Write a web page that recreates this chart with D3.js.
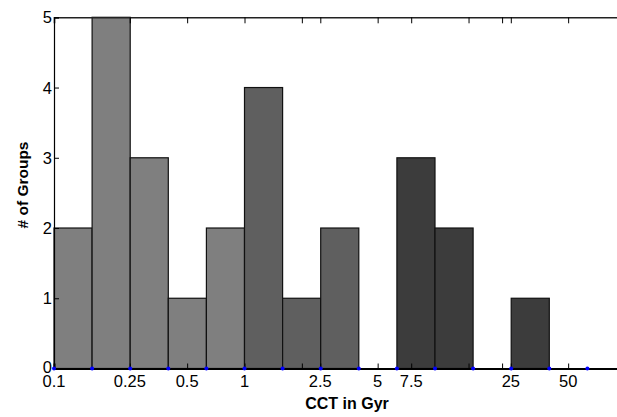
<!DOCTYPE html>
<html><head><meta charset="utf-8">
<script src="https://cdn.jsdelivr.net/npm/d3@7"></script>
<style>
body{margin:0;background:#fff;}
text{font-family:"Liberation Sans",Arial,Helvetica,sans-serif;}
</style></head>
<body><svg id="c" width="617" height="417"></svg>
<script>
// Bin edges (CCT in Gyr, log-spaced)
const binEdges = [0.1, 0.1585, 0.2512, 0.3981, 0.631, 1, 1.585, 2.512, 3.981, 6.31, 10, 15.85, 25.12, 39.81, 63.1];
// Counts per bin
const counts = [2, 5, 3, 1, 2, 4, 1, 2, 0, 3, 2, 0, 1, 0];
// Shade group per bin (0 light, 1 medium, 2 dark)
const shadeGroup = [0, 0, 0, 0, 0, 1, 1, 1, 1, 2, 2, 2, 2, 2];
const shadeColors = ["#7f7f7f", "#5f5f5f", "#3c3c3c"];
// Axis ticks
const xTickValues = [0.25, 0.5, 1, 2, 2.5, 5, 7.5, 15, 22.5, 25, 50];
const xTickLabelValues = [0.1, 0.25, 0.5, 1, 2.5, 5, 7.5, 25, 50];
const xTickLabels = ["0.1", "0.25", "0.5", "1", "2.5", "5", "7.5", "25", "50"];
const yTickValues = [0, 1, 2, 3, 4, 5];

(function () {
const svg = d3.select("#c");
const mLeft = 54, mTop = 17.3, mBottom = 368.5;
const x = d3.scaleLog().domain([0.1, 100]).range([mLeft, mLeft + 3 * 190.5]);
const y = d3.scaleLinear().domain([0, 5]).range([mBottom, mTop]);

// bars
const bars = counts.map((c, i) => ({x0: binEdges[i], x1: binEdges[i + 1], c, g: shadeGroup[i]})).filter(d => d.c > 0);
svg.append("g").selectAll("rect").data(bars).join("rect")
  .attr("x", d => x(d.x0)).attr("y", d => y(d.c))
  .attr("width", d => x(d.x1) - x(d.x0)).attr("height", d => y(0) - y(d.c))
  .attr("fill", d => shadeColors[d.g]).attr("stroke", "#111").attr("stroke-width", 1.2);

// bottom axis
const xb = svg.append("g").attr("transform", `translate(0,${mBottom})`)
  .call(d3.axisBottom(x).tickValues(xTickValues).tickSize(-5).tickFormat(""));
xb.select(".domain").attr("stroke", "#000").attr("stroke-width", 2);
xb.selectAll(".tick line").attr("stroke", "#000");
// top axis
const xt = svg.append("g").attr("transform", `translate(0,${mTop})`)
  .call(d3.axisTop(x).tickValues(xTickValues).tickSize(-6).tickFormat(""));
xt.select(".domain").attr("stroke", "#222").attr("stroke-width", 1.6);
xt.selectAll(".tick line").attr("stroke", "#000");

// x labels
svg.append("g").selectAll("text").data(xTickLabelValues).join("text")
  .attr("x", d => x(d)).attr("y", 387).attr("text-anchor", "middle")
  .attr("font-size", 16.5).attr("fill", "#000")
  .text((d, i) => xTickLabels[i]);

// left axis
const yl = svg.append("g").attr("transform", `translate(${mLeft},0)`)
  .call(d3.axisLeft(y).tickValues(yTickValues).tickSize(-5).tickFormat(""));
yl.select(".domain").attr("stroke", "#000").attr("stroke-width", 1.2);
yl.selectAll(".tick line").attr("stroke", "#000");
svg.append("g").selectAll("text").data(yTickValues).join("text")
  .attr("x", 52).attr("y", d => y(d) + (d === 0 ? 4.5 : 6))
  .attr("text-anchor", "end")
  .attr("font-size", 16.5).attr("fill", "#000").text(d => d);

// blue edge markers
svg.append("g").selectAll("circle").data(binEdges).join("circle")
  .attr("cx", d => x(d)).attr("cy", mBottom).attr("r", 2).attr("fill", "#0000ff");

// axis titles
svg.append("text").attr("x", 347).attr("y", 409).attr("text-anchor", "middle")
  .attr("font-size", 16).attr("font-weight", "bold").text("CCT in Gyr");
svg.append("text").attr("transform", "translate(27.5,185) rotate(-90)").attr("text-anchor", "middle")
  .attr("font-size", 15.5).attr("font-weight", "bold").text("# of Groups");
})();
</script></body></html>
